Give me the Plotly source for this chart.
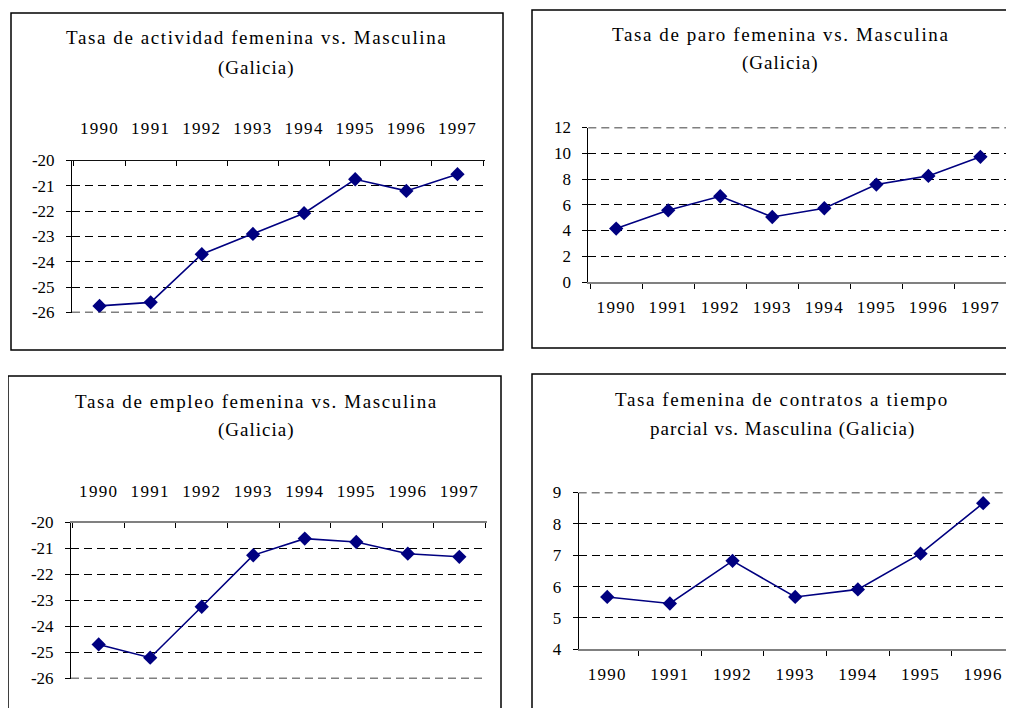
import plotly.graph_objects as go

# ---------------- data ----------------
years8 = ["1990", "1991", "1992", "1993", "1994", "1995", "1996", "1997"]
years7 = ["1990", "1991", "1992", "1993", "1994", "1995", "1996"]

actividad = [-25.74, -25.60, -23.70, -22.90, -22.08, -20.74, -21.20, -20.54]
paro = [4.15, 5.57, 6.66, 5.05, 5.73, 7.57, 8.24, 9.72]
empleo = [-24.69, -25.20, -23.24, -21.26, -20.62, -20.75, -21.20, -21.32]
parcial = [5.67, 5.46, 6.82, 5.67, 5.91, 7.05, 8.66]

ticks_neg = [-26, -25, -24, -23, -22, -21, -20]
ticks_paro = [0, 2, 4, 6, 8, 10, 12]
ticks_parcial = [4, 5, 6, 7, 8, 9]

title1 = ["Tasa de actividad femenina vs. Masculina", "(Galicia)"]
title2 = ["Tasa de paro femenina vs. Masculina", "(Galicia)"]
title3 = ["Tasa de empleo femenina vs. Masculina", "(Galicia)"]
title4 = ["Tasa femenina de contratos a tiempo", "parcial vs. Masculina (Galicia)"]

# ---------------- layout helpers ----------------
# the page body has an 8px margin, so the figure starts at (8, 8) in the window
OX, OY = 8, 8
W, H = 1006, 700
FONT = "Liberation Serif"
NAVY = "#000080"
DASH = "8px,5px"


def px(x):
    return (x - OX) / W


def py(y):
    return 1 - (y - OY) / H


def spaced(t, ls):
    return '<span style="letter-spacing:%spx">%s</span>' % (ls, t)


fig = go.Figure()

panels = [
    dict(cats=years8, vals=actividad, yt=ticks_neg, box=(72, 485, 160.5, 312.5), side="top", xso=19,
         edge="min", xlc="#111111", xlw=1),
    dict(cats=years8, vals=paro, yt=ticks_paro, box=(588.3, 1008.3, 127.5, 282.0), side="bottom", xso=9,
         edge="max", xlc="#808080", xlw=2),
    dict(cats=years8, vals=empleo, yt=ticks_neg, box=(71, 487, 522.5, 678.5), side="top", xso=17,
         edge="min", xlc="#808080", xlw=2),
    dict(cats=years7, vals=parcial, yt=ticks_parcial, box=(578.7, 1011.7, 492.5, 649.3), side="bottom", xso=8,
         edge="max", xlc="#808080", xlw=2),
]

for i, p in enumerate(panels, start=1):
    xa = "x" if i == 1 else "x%d" % i
    ya = "y" if i == 1 else "y%d" % i
    x0, x1, yt, yb = p["box"]
    yt_vals = p["yt"]
    # end gridline that plotly clips at the edge of the range
    edge_val = min(yt_vals) if p["edge"] == "min" else max(yt_vals)
    fig.add_shape(type="line", xref=xa + " domain", yref=ya, x0=0, x1=1, y0=edge_val, y1=edge_val,
                  line=dict(color="black", width=1.5, dash=DASH), layer="below")
    fig.add_trace(go.Scatter(
        x=p["cats"], y=p["vals"], xaxis=xa, yaxis=ya, mode="lines+markers",
        line=dict(color=NAVY, width=1.6),
        marker=dict(symbol="diamond", size=11, color=NAVY),
        showlegend=False, hoverinfo="skip"))
    fig.update_layout(**{
        ("xaxis" if i == 1 else "xaxis%d" % i): dict(
            type="category", domain=[px(x0), px(x1)], anchor=ya, side=p["side"],
            showline=True, linecolor=p["xlc"], linewidth=p["xlw"],
            ticks="inside" if p["side"] == "top" else "outside", ticklen=5, tickcolor="black",
            tickson="boundaries", showgrid=False, zeroline=False, automargin=False,
            tickmode="array", tickvals=p["cats"], ticktext=[spaced(c, 1.3) for c in p["cats"]],
            tickfont=dict(family=FONT, size=17, color="black"),
            ticklabelstandoff=p["xso"], fixedrange=True),
        ("yaxis" if i == 1 else "yaxis%d" % i): dict(
            domain=[py(yb), py(yt)], anchor=xa, range=[min(yt_vals), max(yt_vals)],
            tickmode="array", tickvals=yt_vals, ticktext=[str(v) for v in yt_vals],
            showline=True, linecolor="black", linewidth=1,
            ticks="outside", ticklen=5, tickcolor="black",
            showgrid=True, gridcolor="black", gridwidth=1, griddash=DASH,
            zeroline=False, automargin=False, tickfont=dict(family=FONT, size=17, color="black"),
            ticklabelstandoff=8, fixedrange=True),
    })

# titles
titles = [
    (title1, 256, 38, 68),
    (title2, 780, 34, 63),
    (title3, 256, 401, 430),
    (title4, 782, 399, 429),
]
for lines, cx, y1, y2 in titles:
    for txt, yy, ls in ((lines[0], y1, 1.6), (lines[1], y2, 1.0)):
        fig.add_annotation(text=spaced(txt, ls), x=px(cx), y=py(yy), xref="paper", yref="paper",
                           xanchor="center", yanchor="middle", showarrow=False,
                           font=dict(family=FONT, size=19, color="black"))

# panel frames
frames = [(11, 13, 503, 350), (532, 10, 1030, 348), (8, 376, 501, 730), (532, 374, 1030, 730)]
for x0, y0, x1, y1 in frames:
    fig.add_shape(type="rect", xref="paper", yref="paper",
                  x0=px(x0), x1=px(x1), y0=py(y1), y1=py(y0),
                  line=dict(color="black", width=1.5), fillcolor="rgba(0,0,0,0)", layer="above")

fig.update_layout(width=W, height=H, margin=dict(l=0, r=0, t=0, b=0, autoexpand=False),
                  paper_bgcolor="white", plot_bgcolor="white",
                  font=dict(family=FONT, color="black"))

fig.write_html("out.html")
